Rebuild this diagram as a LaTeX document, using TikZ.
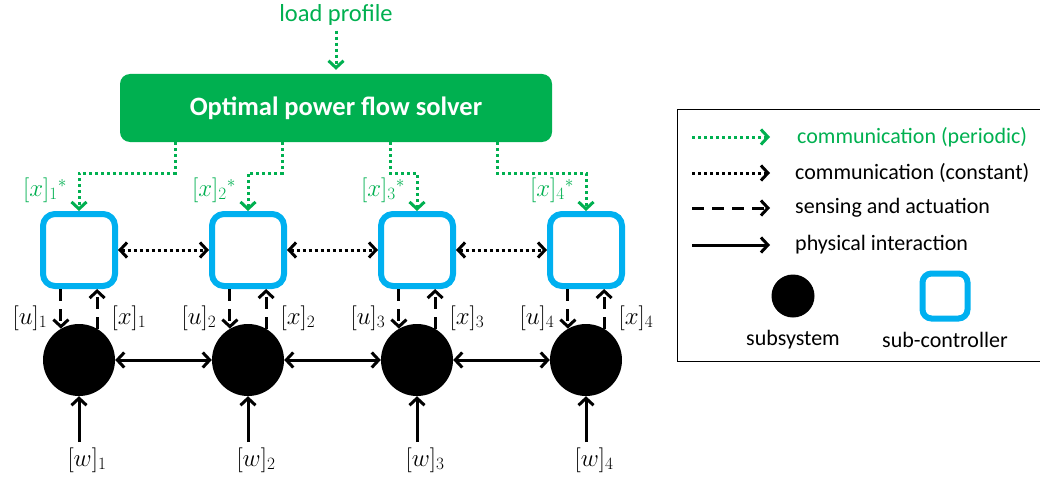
\documentclass[tikz,border=0pt]{standalone}
\usepackage{fontspec}
\setmainfont{Carlito}
\usetikzlibrary{arrows.meta,calc}
\definecolor{pgreen}{HTML}{00B050}
\definecolor{pblue}{HTML}{00B0F0}
\tikzset{
  txt/.style={font=\fontsize{22}{26}\selectfont, inner sep=0pt},
  mth/.style={font=\fontsize{26}{30}\selectfont, inner sep=0pt},
  tip/.style={-{Straight Barb[length=7pt,width=15pt]}},
  tips/.style={{Straight Barb[length=7pt,width=15pt]}-{Straight Barb[length=7pt,width=15pt]}},
  dots/.style={line width=3pt, dash pattern=on 3pt off 3pt},
  gdot/.style={dots, pgreen, tip},
  kdot/.style={dots, black},
  dsh/.style={line width=3pt, dash pattern=on 12pt off 8pt, tip},
  phys/.style={line width=3pt},
  ctrl/.style={draw=pblue, line width=6pt, rounded corners=12pt, minimum size=72pt, inner sep=0pt, fill=white},
  subs/.style={circle, fill=black, minimum size=72pt, inner sep=0pt},
}
\begin{document}
\begin{tikzpicture}[x=1pt,y=-1pt]
\useasboundingbox (0,0) rectangle (1040,476);

\node[font=\fontsize{24.5}{28}\selectfont, inner sep=0pt, text=pgreen] (lp) at (336,15) {load profile};
\node[fill=pgreen, rounded corners=10pt, minimum width=432pt, minimum height=68pt, inner sep=0pt,
      text=white, font=\fontsize{26.5}{30}\selectfont\bfseries] (ops) at (336,108) {Optimal power flow solver};
\draw[gdot] ([yshift=-5pt]lp.south) -- ([yshift=4pt]ops.north);

\foreach \i/\x in {1/79,2/248,3/417,4/586}{
  \node[ctrl] (sc\i) at (\x,250) {};
  \node[subs] (ss\i) at (\x,360) {};
  \coordinate (w\i) at (\x,442);
  \node[mth, text=pgreen] (xs\i) at (\x-34,190) {$[x]_{\i}{}^{*}$};
  \node[mth] (u\i) at (\x-49,318) {$[u]_{\i}$};
  \node[mth] (xl\i) at (\x+50,318) {$[x]_{\i}$};
  \node[mth] (wl\i) at (\x+8,460) {$[w]_{\i}$};
  \draw[dsh] (sc\i.south -| ss\i.120) -- (ss\i.120);
  \draw[dsh] (ss\i.60) -- (ss\i.60 |- sc\i.south);
  \draw[phys, tip] (w\i) -- (ss\i.south);
}
\draw[gdot] ([xshift=-161pt]ops.south) -- ++(0,31) -| (sc1.north);
\draw[gdot] ([xshift=-54pt]ops.south) -- ++(0,31) -| (sc2.north);
\draw[gdot] ([xshift=54pt]ops.south) -- ++(0,31) -| (sc3.north);
\draw[gdot] ([xshift=161pt]ops.south) -- ++(0,31) -| (sc4.north);

\draw[kdot, tips] (sc1) -- (sc2);
\draw[kdot, tips] (sc2) -- (sc3);
\draw[kdot, tips] (sc3) -- (sc4);
\draw[phys, tips] (ss1) -- (ss2);
\draw[phys, tips] (ss2) -- (ss3);
\draw[phys, tips] (ss3) -- (ss4);

% legend
\node[draw=black, line width=1pt, minimum width=366pt, minimum height=251pt, inner sep=0pt] (leg) at (860,235.5) {};
\coordinate (a1) at (692,137); \coordinate (b1) at (770,137);
\coordinate (a2) at (692,173); \coordinate (b2) at (770,173);
\coordinate (a3) at (692,208); \coordinate (b3) at (770,208);
\coordinate (a4) at (692,245); \coordinate (b4) at (770,245);
\draw[gdot] (a1) -- (b1);
\draw[kdot, tip] (a2) -- (b2);
\draw[dsh] (a3) -- (b3);
\draw[phys, tip] (a4) -- (b4);
\node[txt, anchor=west, text=pgreen] (l1) at (797,137) {communication (periodic)};
\node[txt, anchor=west] (l2) at (795,173) {communication (constant)};
\node[txt, anchor=west] (l3) at (795,208) {sensing and actuation};
\node[txt, anchor=west] (l4) at (795,245) {physical interaction};
\node[circle, fill=black, minimum size=43pt, inner sep=0pt] (lc) at (793,296) {};
\node[draw=pblue, line width=6pt, rounded corners=9pt, minimum size=45pt, inner sep=0pt] (ls) at (945,296) {};
\node[txt] (lcl) at (793,340) {subsystem};
\node[txt] (lsl) at (945,340) {sub-controller};
\end{tikzpicture}
\end{document}
